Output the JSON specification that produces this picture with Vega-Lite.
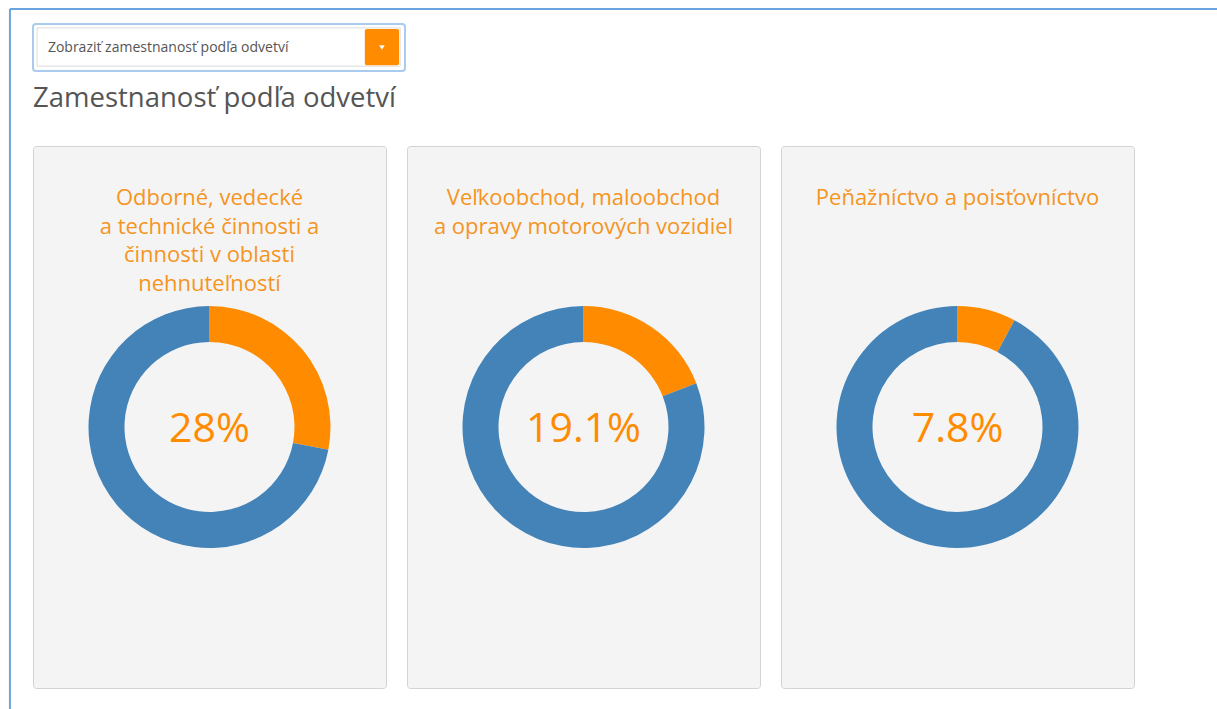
{
  "$schema": "https://vega.github.io/schema/vega-lite/v6.json",
  "background": "white",
  "padding": {"left": 7, "top": 7, "right": 0, "bottom": 0},
  "config": {
    "view": {"stroke": null},
    "font": "Open Sans",
    "axis": {"disable": true},
    "legend": {"disable": true}
  },
  "datasets": {
    "shares": [
      {"panel": 1, "part": "odvetvie", "value": 28, "order": 1, "label": "28%"},
      {"panel": 1, "part": "ostatné", "value": 72, "order": 2, "label": ""},
      {"panel": 2, "part": "odvetvie", "value": 19.1, "order": 1, "label": "19.1%"},
      {"panel": 2, "part": "ostatné", "value": 80.9, "order": 2, "label": ""},
      {"panel": 3, "part": "odvetvie", "value": 7.8, "order": 1, "label": "7.8%"},
      {"panel": 3, "part": "ostatné", "value": 92.2, "order": 2, "label": ""}
    ],
    "dropdown": [
      {"text": "Zobraziť zamestnanosť podľa odvetví"}
    ]
  },
  "bounds": "flush",
  "spacing": 75,
  "vconcat": [
    {
      "width": 372,
      "height": 47,
      "data": {"name": "dropdown"},
      "view": {"fill": "white", "stroke": "#a9cbee", "strokeWidth": 2, "cornerRadius": 3},
      "layer": [
        {
          "mark": {"type": "rule", "stroke": "#6aa3dd", "strokeWidth": 2},
          "encoding": {
            "x": {"datum": -0.062, "type": "quantitative", "scale": {"domain": [0, 1]}},
            "x2": {"datum": 3.2},
            "y": {"datum": 1.319, "type": "quantitative", "scale": {"domain": [0, 1]}}
          }
        },
        {
          "mark": {"type": "rule", "stroke": "#6aa3dd", "strokeWidth": 2},
          "encoding": {
            "x": {"datum": -0.062, "type": "quantitative", "scale": {"domain": [0, 1]}},
            "y": {"datum": 1.319, "type": "quantitative", "scale": {"domain": [0, 1]}},
            "y2": {"datum": -13.7}
          }
        },
        {
          "mark": {"type": "rect", "fill": "white", "stroke": "#dcdcdc", "strokeWidth": 1},
          "encoding": {
            "x": {"datum": 0.011, "type": "quantitative", "scale": {"domain": [0, 1]}},
            "x2": {"datum": 0.987},
            "y": {"datum": 0.104, "type": "quantitative", "scale": {"domain": [0, 1]}},
            "y2": {"datum": 0.917}
          }
        },
        {
          "mark": {"type": "rect", "fill": "#ff8c00", "cornerRadius": 2},
          "encoding": {
            "x": {"datum": 0.892, "type": "quantitative", "scale": {"domain": [0, 1]}},
            "x2": {"datum": 0.984},
            "y": {"datum": 0.125, "type": "quantitative", "scale": {"domain": [0, 1]}},
            "y2": {"datum": 0.896}
          }
        },
        {
          "mark": {"type": "point", "shape": "triangle-down", "filled": true, "fill": "white", "opacity": 1, "size": 30},
          "encoding": {
            "x": {"datum": 0.938, "type": "quantitative", "scale": {"domain": [0, 1]}},
            "y": {"datum": 0.5, "type": "quantitative", "scale": {"domain": [0, 1]}}
          }
        },
        {
          "mark": {"type": "text", "align": "left", "baseline": "middle", "fontSize": 14, "font": "Open Sans", "color": "#555555"},
          "encoding": {
            "x": {"datum": 0.04, "type": "quantitative", "scale": {"domain": [0, 1]}},
            "y": {"datum": 0.5, "type": "quantitative", "scale": {"domain": [0, 1]}},
            "text": {"field": "text"}
          }
        }
      ]
    },
    {
      "title": {
        "text": "Zamestnanosť podľa odvetví",
        "anchor": "start",
        "frame": "group",
        "fontSize": 27.5,
        "font": "Open Sans",
        "fontWeight": "normal",
        "color": "#555555",
        "offset": 33
      },
      "spacing": 19,
      "hconcat": [
        {
          "width": 353,
          "height": 542,
          "view": {"fill": "#f4f4f4", "stroke": "#d3d3d3", "cornerRadius": 3},
          "title": {
            "text": ["Odborné, vedecké", "a technické činnosti a", "činnosti v oblasti", "nehnuteľností"],
            "anchor": "middle", "frame": "group", "fontSize": 22, "lineHeight": 28.5,
            "font": "Open Sans", "fontWeight": "normal", "color": "#f5951f", "offset": -149.5
          },
          "data": {"name": "shares"},
          "transform": [{"filter": "datum.panel == 1"}],
          "layer": [
            {
              "mark": {"type": "arc", "outerRadius": 121, "innerRadius": 85, "yOffset": 10},
              "encoding": {
                "theta": {"field": "value", "type": "quantitative", "stack": true},
                "order": {"field": "order", "type": "quantitative"},
                "color": {"field": "part", "type": "nominal", "scale": {"domain": ["odvetvie", "ostatné"], "range": ["#ff8c00", "#4483b8"]}}
              }
            },
            {
              "transform": [{"filter": "datum.order == 1"}],
              "mark": {"type": "text", "fontSize": 41, "font": "Open Sans", "color": "#ff8c00", "baseline": "middle", "align": "center", "yOffset": 13},
              "encoding": {"text": {"field": "label"}}
            }
          ]
        },
        {
          "width": 353,
          "height": 542,
          "view": {"fill": "#f4f4f4", "stroke": "#d3d3d3", "cornerRadius": 3},
          "title": {
            "text": ["Veľkoobchod, maloobchod", "a opravy motorových vozidiel"],
            "anchor": "middle", "frame": "group", "fontSize": 22, "lineHeight": 28.5,
            "font": "Open Sans", "fontWeight": "normal", "color": "#f5951f", "offset": -92.5
          },
          "data": {"name": "shares"},
          "transform": [{"filter": "datum.panel == 2"}],
          "layer": [
            {
              "mark": {"type": "arc", "outerRadius": 121, "innerRadius": 85, "yOffset": 10},
              "encoding": {
                "theta": {"field": "value", "type": "quantitative", "stack": true},
                "order": {"field": "order", "type": "quantitative"},
                "color": {"field": "part", "type": "nominal", "scale": {"domain": ["odvetvie", "ostatné"], "range": ["#ff8c00", "#4483b8"]}}
              }
            },
            {
              "transform": [{"filter": "datum.order == 1"}],
              "mark": {"type": "text", "fontSize": 41, "font": "Open Sans", "color": "#ff8c00", "baseline": "middle", "align": "center", "yOffset": 13},
              "encoding": {"text": {"field": "label"}}
            }
          ]
        },
        {
          "width": 353,
          "height": 542,
          "view": {"fill": "#f4f4f4", "stroke": "#d3d3d3", "cornerRadius": 3},
          "title": {
            "text": ["Peňažníctvo a poisťovníctvo"],
            "anchor": "middle", "frame": "group", "fontSize": 22, "lineHeight": 28.5,
            "font": "Open Sans", "fontWeight": "normal", "color": "#f5951f", "offset": -64
          },
          "data": {"name": "shares"},
          "transform": [{"filter": "datum.panel == 3"}],
          "layer": [
            {
              "mark": {"type": "arc", "outerRadius": 121, "innerRadius": 85, "yOffset": 10},
              "encoding": {
                "theta": {"field": "value", "type": "quantitative", "stack": true},
                "order": {"field": "order", "type": "quantitative"},
                "color": {"field": "part", "type": "nominal", "scale": {"domain": ["odvetvie", "ostatné"], "range": ["#ff8c00", "#4483b8"]}}
              }
            },
            {
              "transform": [{"filter": "datum.order == 1"}],
              "mark": {"type": "text", "fontSize": 41, "font": "Open Sans", "color": "#ff8c00", "baseline": "middle", "align": "center", "yOffset": 13},
              "encoding": {"text": {"field": "label"}}
            }
          ]
        }
      ]
    }
  ]
}
